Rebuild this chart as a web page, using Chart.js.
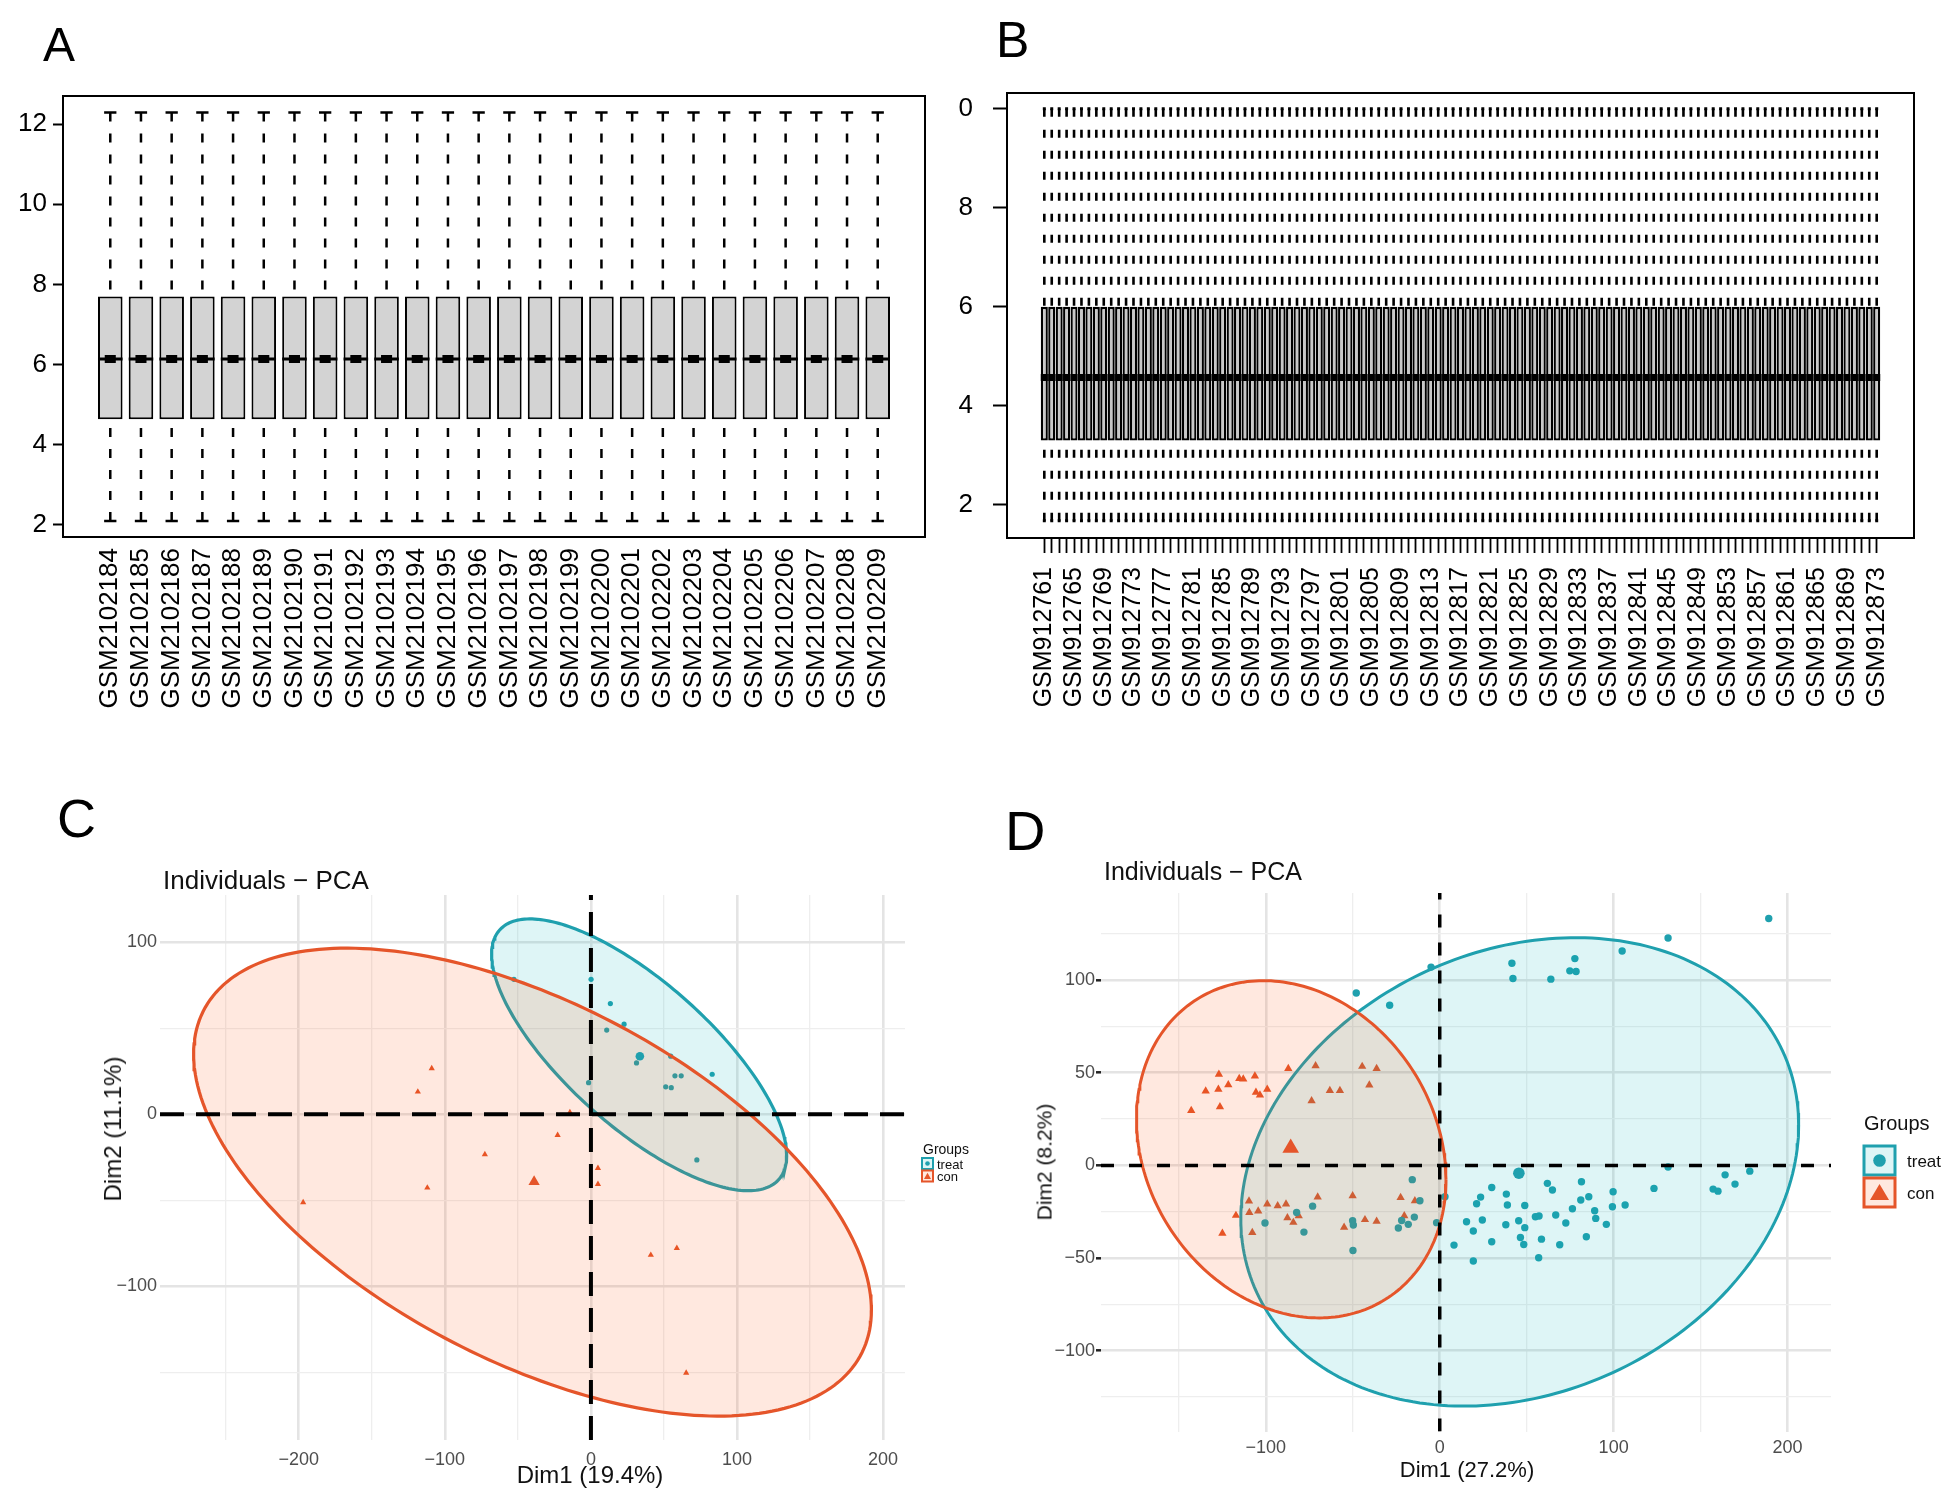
<!DOCTYPE html>
<html><head><meta charset="utf-8">
<script src="https://cdn.jsdelivr.net/npm/chart.js@4.4.1/dist/chart.umd.min.js"></script>
<style>
html,body{margin:0;padding:0;background:#fff;}
body{width:1948px;height:1496px;position:relative;overflow:hidden;font-family:"Liberation Sans",Arial,Helvetica,sans-serif;}
canvas{position:absolute;}
.t{position:absolute;white-space:nowrap;line-height:1;color:#000;}
.c{transform:translate(-50%,-50%);}
.r{transform:translate(-50%,-50%) rotate(-90deg);}
.lg{position:absolute;}
</style></head><body>
<canvas id="cA" width="958" height="740" style="left:0;top:0;width:958px;height:740px"></canvas>
<canvas id="cB" width="990" height="740" style="left:958px;top:0;width:990px;height:740px"></canvas>
<canvas id="cC" width="975" height="736" style="left:0;top:760px;width:975px;height:736px"></canvas>
<canvas id="cD" width="973" height="736" style="left:975px;top:760px;width:973px;height:736px"></canvas>

<div class="t" style="left:43px;top:21px;font-size:48px">A</div>
<div class="t" style="left:996px;top:15px;font-size:50px">B</div>
<div class="t" style="left:57px;top:791px;font-size:54px">C</div>
<div class="t" style="left:1005px;top:803px;font-size:56px">D</div>

<div class="t" style="left:163px;top:867px;font-size:26px;color:#111">Individuals − PCA</div>
<div class="t c" style="left:590px;top:1475px;font-size:24px;color:#111">Dim1 (19.4%)</div>
<div class="t r" style="left:113px;top:1129px;font-size:24px;color:#111">Dim2 (11.1%)</div>

<div class="t" style="left:1104px;top:859px;font-size:25px;color:#111">Individuals − PCA</div>
<div class="t c" style="left:1467px;top:1470px;font-size:22px;color:#111">Dim1 (27.2%)</div>
<div class="t r" style="left:1044px;top:1162px;font-size:21px;color:#111">Dim2 (8.2%)</div>

<!-- legend C -->
<div class="t" style="left:923px;top:1142px;font-size:14px;color:#111">Groups</div>
<svg class="lg" style="left:921px;top:1157px" width="14" height="26">
  <rect x="1" y="1" width="11" height="11" fill="rgba(0,175,187,0.13)" stroke="#1FA0AE" stroke-width="2"/>
  <circle cx="6.5" cy="6.5" r="2.3" fill="#1FA0AE"/>
  <rect x="1" y="13.5" width="11" height="11" fill="rgba(252,78,7,0.13)" stroke="#E5552A" stroke-width="2"/>
  <polygon points="6.5,15.8 10,22 3,22" fill="#E5552A"/>
</svg>
<div class="t" style="left:937px;top:1158px;font-size:13px;color:#111">treat</div>
<div class="t" style="left:937px;top:1170px;font-size:13px;color:#111">con</div>

<!-- legend D -->
<div class="t" style="left:1864px;top:1113px;font-size:20px;color:#111">Groups</div>
<svg class="lg" style="left:1862px;top:1144px" width="37" height="67">
  <rect x="2" y="2" width="31" height="29" fill="rgba(0,175,187,0.13)" stroke="#1FA0AE" stroke-width="3"/>
  <circle cx="17.5" cy="16.5" r="6.3" fill="#1FA0AE"/>
  <rect x="2" y="34" width="31" height="29" fill="rgba(252,78,7,0.13)" stroke="#E5552A" stroke-width="3"/>
  <polygon points="17.5,40 27,56 8,56" fill="#E5552A"/>
</svg>
<div class="t" style="left:1907px;top:1153px;font-size:17px;color:#111">treat</div>
<div class="t" style="left:1907px;top:1185px;font-size:17px;color:#111">con</div>

<script>
const FONT = '"Liberation Sans", Arial, Helvetica, sans-serif';
Chart.defaults.font.family = FONT;

// ================= Panel A : boxplot data =================
const samplesA = ["GSM2102184","GSM2102185","GSM2102186","GSM2102187","GSM2102188","GSM2102189","GSM2102190","GSM2102191","GSM2102192","GSM2102193",
  "GSM2102194","GSM2102195","GSM2102196","GSM2102197","GSM2102198","GSM2102199","GSM2102200","GSM2102201","GSM2102202","GSM2102203",
  "GSM2102204","GSM2102205","GSM2102206","GSM2102207","GSM2102208","GSM2102209"];
const lowerA  = [2.10,2.10,2.10,2.10,2.10,2.10,2.10,2.10,2.10,2.10,2.10,2.10,2.10,2.10,2.10,2.10,2.10,2.10,2.10,2.10,2.10,2.10,2.10,2.10,2.10,2.10];
const q1A     = [4.64,4.64,4.64,4.64,4.64,4.64,4.64,4.64,4.64,4.64,4.64,4.64,4.64,4.64,4.64,4.64,4.64,4.64,4.64,4.64,4.64,4.64,4.64,4.64,4.64,4.64];
const medianA = [6.14,6.14,6.14,6.14,6.14,6.14,6.14,6.14,6.14,6.14,6.14,6.14,6.14,6.14,6.14,6.14,6.14,6.14,6.14,6.14,6.14,6.14,6.14,6.14,6.14,6.14];
const q3A     = [7.70,7.70,7.70,7.70,7.70,7.70,7.70,7.70,7.70,7.70,7.70,7.70,7.70,7.70,7.70,7.70,7.70,7.70,7.70,7.70,7.70,7.70,7.70,7.70,7.70,7.70];
const upperA  = [12.29,12.29,12.29,12.29,12.29,12.29,12.29,12.29,12.29,12.29,12.29,12.29,12.29,12.29,12.29,12.29,12.29,12.29,12.29,12.29,12.29,12.29,12.29,12.29,12.29,12.29];
const yTicksA = [2,4,6,8,10,12];

// ================= Panel B : boxplot data =================
const samplesB = [
  "GSM912761","GSM912762","GSM912763","GSM912764","GSM912765","GSM912766","GSM912767","GSM912768","GSM912769","GSM912770",
  "GSM912771","GSM912772","GSM912773","GSM912774","GSM912775","GSM912776","GSM912777","GSM912778","GSM912779","GSM912780",
  "GSM912781","GSM912782","GSM912783","GSM912784","GSM912785","GSM912786","GSM912787","GSM912788","GSM912789","GSM912790",
  "GSM912791","GSM912792","GSM912793","GSM912794","GSM912795","GSM912796","GSM912797","GSM912798","GSM912799","GSM912800",
  "GSM912801","GSM912802","GSM912803","GSM912804","GSM912805","GSM912806","GSM912807","GSM912808","GSM912809","GSM912810",
  "GSM912811","GSM912812","GSM912813","GSM912814","GSM912815","GSM912816","GSM912817","GSM912818","GSM912819","GSM912820",
  "GSM912821","GSM912822","GSM912823","GSM912824","GSM912825","GSM912826","GSM912827","GSM912828","GSM912829","GSM912830",
  "GSM912831","GSM912832","GSM912833","GSM912834","GSM912835","GSM912836","GSM912837","GSM912838","GSM912839","GSM912840",
  "GSM912841","GSM912842","GSM912843","GSM912844","GSM912845","GSM912846","GSM912847","GSM912848","GSM912849","GSM912850",
  "GSM912851","GSM912852","GSM912853","GSM912854","GSM912855","GSM912856","GSM912857","GSM912858","GSM912859","GSM912860",
  "GSM912861","GSM912862","GSM912863","GSM912864","GSM912865","GSM912866","GSM912867","GSM912868","GSM912869","GSM912870",
  "GSM912871","GSM912872","GSM912873"];
const lowerB = [
  1.68,1.68,1.68,1.68,1.68,1.68,1.68,1.68,1.68,1.68, 1.68,1.68,1.68,1.68,1.68,1.68,1.68,1.68,1.68,1.68,
  1.68,1.68,1.68,1.68,1.68,1.68,1.68,1.68,1.68,1.68, 1.68,1.68,1.68,1.68,1.68,1.68,1.68,1.68,1.68,1.68,
  1.68,1.68,1.68,1.68,1.68,1.68,1.68,1.68,1.68,1.68, 1.68,1.68,1.68,1.68,1.68,1.68,1.68,1.68,1.68,1.68,
  1.68,1.68,1.68,1.68,1.68,1.68,1.68,1.68,1.68,1.68, 1.68,1.68,1.68,1.68,1.68,1.68,1.68,1.68,1.68,1.68,
  1.68,1.68,1.68,1.68,1.68,1.68,1.68,1.68,1.68,1.68, 1.68,1.68,1.68,1.68,1.68,1.68,1.68,1.68,1.68,1.68,
  1.68,1.68,1.68,1.68,1.68,1.68,1.68,1.68,1.68,1.68, 1.68,1.68,1.68];
const q1B = [
  3.30,3.30,3.30,3.30,3.30,3.30,3.30,3.30,3.30,3.30, 3.30,3.30,3.30,3.30,3.30,3.30,3.30,3.30,3.30,3.30,
  3.30,3.30,3.30,3.30,3.30,3.30,3.30,3.30,3.30,3.30, 3.30,3.30,3.30,3.30,3.30,3.30,3.30,3.30,3.30,3.30,
  3.30,3.30,3.30,3.30,3.30,3.30,3.30,3.30,3.30,3.30, 3.30,3.30,3.30,3.30,3.30,3.30,3.30,3.30,3.30,3.30,
  3.30,3.30,3.30,3.30,3.30,3.30,3.30,3.30,3.30,3.30, 3.30,3.30,3.30,3.30,3.30,3.30,3.30,3.30,3.30,3.30,
  3.30,3.30,3.30,3.30,3.30,3.30,3.30,3.30,3.30,3.30, 3.30,3.30,3.30,3.30,3.30,3.30,3.30,3.30,3.30,3.30,
  3.30,3.30,3.30,3.30,3.30,3.30,3.30,3.30,3.30,3.30, 3.30,3.30,3.30];
const medianB = [
  4.57,4.57,4.57,4.57,4.57,4.57,4.57,4.57,4.57,4.57, 4.57,4.57,4.57,4.57,4.57,4.57,4.57,4.57,4.57,4.57,
  4.57,4.57,4.57,4.57,4.57,4.57,4.57,4.57,4.57,4.57, 4.57,4.57,4.57,4.57,4.57,4.57,4.57,4.57,4.57,4.57,
  4.57,4.57,4.57,4.57,4.57,4.57,4.57,4.57,4.57,4.57, 4.57,4.57,4.57,4.57,4.57,4.57,4.57,4.57,4.57,4.57,
  4.57,4.57,4.57,4.57,4.57,4.57,4.57,4.57,4.57,4.57, 4.57,4.57,4.57,4.57,4.57,4.57,4.57,4.57,4.57,4.57,
  4.57,4.57,4.57,4.57,4.57,4.57,4.57,4.57,4.57,4.57, 4.57,4.57,4.57,4.57,4.57,4.57,4.57,4.57,4.57,4.57,
  4.57,4.57,4.57,4.57,4.57,4.57,4.57,4.57,4.57,4.57, 4.57,4.57,4.57];
const q3B = [
  6.00,6.00,6.00,6.00,6.00,6.00,6.00,6.00,6.00,6.00, 6.00,6.00,6.00,6.00,6.00,6.00,6.00,6.00,6.00,6.00,
  6.00,6.00,6.00,6.00,6.00,6.00,6.00,6.00,6.00,6.00, 6.00,6.00,6.00,6.00,6.00,6.00,6.00,6.00,6.00,6.00,
  6.00,6.00,6.00,6.00,6.00,6.00,6.00,6.00,6.00,6.00, 6.00,6.00,6.00,6.00,6.00,6.00,6.00,6.00,6.00,6.00,
  6.00,6.00,6.00,6.00,6.00,6.00,6.00,6.00,6.00,6.00, 6.00,6.00,6.00,6.00,6.00,6.00,6.00,6.00,6.00,6.00,
  6.00,6.00,6.00,6.00,6.00,6.00,6.00,6.00,6.00,6.00, 6.00,6.00,6.00,6.00,6.00,6.00,6.00,6.00,6.00,6.00,
  6.00,6.00,6.00,6.00,6.00,6.00,6.00,6.00,6.00,6.00, 6.00,6.00,6.00];
const upperB = [
  10.0,10.0,10.0,10.0,10.0,10.0,10.0,10.0,10.0,10.0, 10.0,10.0,10.0,10.0,10.0,10.0,10.0,10.0,10.0,10.0,
  10.0,10.0,10.0,10.0,10.0,10.0,10.0,10.0,10.0,10.0, 10.0,10.0,10.0,10.0,10.0,10.0,10.0,10.0,10.0,10.0,
  10.0,10.0,10.0,10.0,10.0,10.0,10.0,10.0,10.0,10.0, 10.0,10.0,10.0,10.0,10.0,10.0,10.0,10.0,10.0,10.0,
  10.0,10.0,10.0,10.0,10.0,10.0,10.0,10.0,10.0,10.0, 10.0,10.0,10.0,10.0,10.0,10.0,10.0,10.0,10.0,10.0,
  10.0,10.0,10.0,10.0,10.0,10.0,10.0,10.0,10.0,10.0, 10.0,10.0,10.0,10.0,10.0,10.0,10.0,10.0,10.0,10.0,
  10.0,10.0,10.0,10.0,10.0,10.0,10.0,10.0,10.0,10.0, 10.0,10.0,10.0];
const yTicksB = [2,4,6,8,10];

// ================= Panel C : PCA =================
const treatC_x = [0.1, 13.3, 10.8, 22.7, 31.2, 54.6, 57.5, 61.8, 83.0, 51.2, 55.0, -1.6, 72.5, -52.7];
const treatC_y = [78.4, 64.3, 48.9, 52.3, 29.8, 33.7, 22.3, 22.3, 23.2, 15.9, 15.4, 18.3, -26.6, 78.4];
const conC_x = [-109, -118.5, -14.4, -22.8, -72.6, -112, -197, 4.8, 4.8, 41, 58.8, 65.2];
const conC_y = [26.6, 13, 1, -12.2, -23.4, -42.8, -51.3, -31.4, -40.7, -81.9, -77.9, -150.4];
const centerC_treat = [33.5, 33.7];
const centerC_con = [-38.9, -39.3];
// ellipse: [centre x, centre y, half-width x, half-height y, correlation]
const ellipseC_treat = [33, 34.5, 101, 79, -0.74];
const ellipseC_con = [-40, -39.5, 232, 136, -0.548];
const gridC_x = [-250, -200, -150, -100, -50, 0, 50, 100, 150, 200];
const labelsC_x = [-200, -100, 0, 100, 200];
const gridC_y = [-150, -100, -50, 0, 50, 100];
const labelsC_y = [-100, 0, 100];

// ================= Panel D : PCA =================
const treatD_x = [-100.5, -82.3, -78.1, -73.1, -50.1, -49.7, -49.9, -15.8, -11.4, -14.6, -18.1, -21.9, -23.8, -1.8, 3.0,
  8.2, 15.4, 19.3, 21.2, 23.5, 24.5, 29.9, 29.9, 19.3,
  38.3, 38.9, 38.0, 45.4, 48.9, 46.4, 48.3, 48.9, 56.9, 55.0, 57.1, 58.5, 61.9, 64.8, 66.7, 69.0, 72.5, 76.3, 81.5, 81.1,
  85.7, 89.1, 89.7, 84.3, 95.8, 99.7, 99.3, 106.6, 123.2, 131.3, 157.2, 160.0, 164.1, 169.8, 178.3,
  -48, -28.8, -5, 41.5, 42.1, 63.9, 77.7, 74.8, 78.4, 104.9, 131.3, 189.2];
const treatD_y = [-31.1, -25.4, -36, -22, -29.9, -32.2, -45.9, -7.7, -19.1, -27.9, -31.8, -29.7, -33.8, -30.9, -16.9,
  -43, -30.4, -35.4, -20.7, -17.1, -29.5, -11.9, -41.2, -51.6,
  -15.5, -21.4, -32, -29.9, -33.6, -38.9, -42.7, -21.6, -49.8, -27.7, -27.3, -39.8, -9.7, -13.3, -26.8, -42.8, -31.1, -23.4, -8.8, -18.7,
  -16.9, -24.5, -28.6, -38.5, -31.8, -14.2, -22.3, -21.4, -12.4, -0.9, -12.8, -13.9, -5.1, -10.1, -3.1,
  93, 86.4, 107, 109.1, 100.9, 100.5, 111.6, 105, 104.6, 115.7, 122.7, 133.2];
const conD_x = [-127, -134.6, -127.3, -121.6, -115.3, -113, -106.3, -105.7, -103.4, -99.2, -126.4, -87.1, -71.4, -73.7, -63.2, -57.4, -44.6, -36.3, -40.5, -142.9,
  -109.7, -99.2, -93.2, -88.4, -117.2, -109.5, -104.4, -87.6, -84.2, -81.1, -125, -107.8, -70.2, -50.1, -55, -43, -36.3, -22.5, -14.3, -20.4];
const conD_y = [49.2, 40.1, 41.1, 43.5, 46.9, 46.6, 48.2, 39.4, 37.9, 41.1, 31.6, 52.3, 53.7, 34.9, 40.4, 40.4, 53.4, 52.3, 43.3, 29.6,
  -19.3, -20.9, -21.8, -20.9, -27, -25.5, -24.6, -28.3, -30.8, -27.2, -36.7, -36.2, -17.1, -16.4, -33.4, -29.3, -30.2, -17.4, -19.1, -27.2];
const centerD_treat = [45.5, -4.2];
const centerD_con = [-85.7, 9.4];
const ellipseD_treat = [46, -3.5, 160.4, 126.4, 0.2];
const ellipseD_con = [-85.4, 8.7, 89, 91, -0.18];
const gridD_x = [-150, -100, -50, 0, 50, 100, 150, 200];
const labelsD_x = [-100, 0, 100, 200];
const gridD_y = [-125, -100, -75, -50, -25, 0, 25, 50, 75, 100, 125];
const labelsD_y = [-100, -50, 0, 50, 100];

// ================= styles =================
const TEAL = '#1FA0AE', ORANGE = '#E5552A';
const TEAL_FILL = 'rgba(0,175,187,0.13)', ORANGE_FILL = 'rgba(252,78,7,0.13)';

const frame = {
  id: 'frame',
  afterDraw(chart) {
    const a = chart.chartArea, ctx = chart.ctx;
    ctx.save(); ctx.strokeStyle = '#000'; ctx.lineWidth = 2;
    ctx.strokeRect(a.left, a.top, a.right - a.left, a.bottom - a.top);
    ctx.restore();
  }
};

function boxplot(id, o) {
  const xs = o.labels.map((_, i) => i + 1);
  const gap = x => ({x, y: null});
  const whisk = [], caps = [], meds = [], blobs = [];
  xs.forEach((x, i) => {
    whisk.push({x, y: o.upper[i]}, {x, y: o.q3[i]}, gap(x), {x, y: o.lower[i]}, {x, y: o.q1[i]}, gap(x));
    caps.push({x: x - 0.2, y: o.upper[i]}, {x: x + 0.2, y: o.upper[i]}, gap(x),
              {x: x - 0.2, y: o.lower[i]}, {x: x + 0.2, y: o.lower[i]}, gap(x));
    meds.push({x: x - o.half, y: o.median[i]}, {x: x + o.half, y: o.median[i]}, gap(x));
    blobs.push({x: x - 0.18, y: o.median[i]}, {x: x + 0.18, y: o.median[i]}, gap(x));
  });
  const line = (data, w, dash, order) => ({type: 'line', data, borderColor: '#000', borderWidth: w,
    borderDash: dash, pointRadius: 0, fill: false, tension: 0, spanGaps: false, order});
  new Chart(document.getElementById(id), {
    type: 'bar',
    data: {datasets: [
      {type: 'bar', data: xs.map((x, i) => ({x, y: [o.q1[i], o.q3[i]]})), backgroundColor: o.boxFill,
       borderColor: '#000', borderWidth: o.boxBorder, borderSkipped: false, barPercentage: o.half * 2,
       categoryPercentage: 1, order: 10},
      line(whisk, o.whiskW, o.dash, 5),
      line(caps, o.capW, [], 4),
      line(meds, o.medW, [], 3),
      line(blobs, o.blobW, [], 2)
    ]},
    options: {
      responsive: false, animation: false, devicePixelRatio: 1,
      layout: {padding: o.pad},
      plugins: {legend: {display: false}, tooltip: {enabled: false}},
      scales: {
        x: {type: 'linear', min: o.xMin, max: o.xMax, offset: false,
            afterBuildTicks: s => { s.ticks = xs.map(v => ({value: v})); },
            afterFit: s => { s.height = o.xAxisH; },
            ticks: {autoSkip: false, minRotation: 90, maxRotation: 90, padding: o.xPad, color: '#000',
                    font: {size: o.xFont}, callback: v => ((v - 1) % o.every === 0 ? o.labels[v - 1] : '')},
            grid: {display: o.xTicks, drawOnChartArea: false, drawTicks: o.xTicks, tickLength: o.xTickLen,
                   tickColor: '#000', tickWidth: 1.8, offset: false},
            border: {display: true, color: '#000', width: 2}},
        y: {type: 'linear', min: o.yMin, max: o.yMax,
            afterBuildTicks: s => { s.ticks = o.yTicks.map(v => ({value: v})); },
            afterFit: s => { s.width = o.yAxisW; },
            ticks: {padding: o.yPad, color: '#000', font: {size: 26}, callback: v => String(v)},
            grid: {drawOnChartArea: false, drawTicks: true, tickLength: o.yTickLen, tickColor: '#000', tickWidth: 2},
            border: {display: true, color: '#000', width: 2}}
      }
    },
    plugins: [frame]
  });
}

boxplot('cA', {labels: samplesA, lower: lowerA, q1: q1A, median: medianA, q3: q3A, upper: upperA,
  yTicks: yTicksA, xMin: -0.54, xMax: 27.54, yMin: 1.70, yMax: 12.70,
  pad: {top: 96, right: 33, left: 0, bottom: 0}, xAxisH: 203, yAxisW: 63, xPad: 11, xFont: 26,
  xTicks: false, xTickLen: 0, yTickLen: 10, yPad: 6, every: 1, half: 0.4, boxFill: '#d3d3d3',
  boxBorder: 2, whiskW: 2.5, capW: 2.5, dash: [9, 12], medW: 3, blobW: 8});

boxplot('cB', {labels: samplesB, lower: lowerB, q1: q1B, median: medianB, q3: q3B, upper: upperB,
  yTicks: yTicksB, xMin: -4.02, xMax: 118.02, yMin: 1.33, yMax: 10.32,
  pad: {top: 93, right: 34, left: 0, bottom: 0}, xAxisH: 202, yAxisW: 49, xPad: 14, xFont: 25,
  xTicks: true, xTickLen: 15, yTickLen: 14, yPad: 20, every: 4, half: 0.475, boxFill: '#c8c8c8',
  boxBorder: 2.3, whiskW: 2.6, capW: 3, dash: [8, 13], medW: 7, blobW: 7});

// ================= PCA charts =================
function ellipsePoints(e) {
  const [cx, cy, wx, wy, r] = e;
  const d = Math.acos(r);
  const pts = [];
  for (let k = 0; k <= 240; k++) {
    const t = k / 240 * 2 * Math.PI;
    pts.push({x: cx + wx * Math.cos(t), y: cy + wy * Math.cos(t + d)});
  }
  return pts;
}
const zip = (xs, ys) => xs.map((x, i) => ({x, y: ys[i]}));
const fmt = v => (v < 0 ? '\u2212' + (-v) : String(v));

function pca(id, o) {
  new Chart(document.getElementById(id), {
    type: 'scatter',
    data: {datasets: [
      {data: zip(o.tx, o.ty), pointStyle: 'circle', pointRadius: o.rDot, backgroundColor: TEAL, borderWidth: 0, order: 10},
      {data: zip(o.cx, o.cy), pointStyle: 'triangle', pointRadius: o.rTri, backgroundColor: ORANGE, borderWidth: 0, order: 10},
      {data: ellipsePoints(o.eT), showLine: true, pointRadius: 0, borderColor: TEAL, borderWidth: o.ellW,
       backgroundColor: TEAL_FILL, fill: 'shape', tension: 0, order: 8},
      {data: ellipsePoints(o.eC), showLine: true, pointRadius: 0, borderColor: ORANGE, borderWidth: o.ellW,
       backgroundColor: ORANGE_FILL, fill: 'shape', tension: 0, order: 7},
      {data: [{x: o.xMin, y: 0}, {x: o.xMax, y: 0}], showLine: true, pointRadius: 0, borderColor: '#000',
       borderWidth: o.dashW, borderDash: o.dash, order: 5},
      {data: [{x: 0, y: o.yMin}, {x: 0, y: o.yMax}], showLine: true, pointRadius: 0, borderColor: '#000',
       borderWidth: o.dashW, borderDash: o.dash, order: 5},
      {data: [{x: o.mT[0], y: o.mT[1]}], pointStyle: 'circle', pointRadius: o.rDotBig, backgroundColor: TEAL, borderWidth: 0, order: 1},
      {data: [{x: o.mC[0], y: o.mC[1]}], pointStyle: 'triangle', pointRadius: o.rTriBig, backgroundColor: ORANGE, borderWidth: 0, order: 1}
    ]},
    options: {
      responsive: false, animation: false, devicePixelRatio: 1,
      layout: {padding: o.pad},
      plugins: {legend: {display: false}, tooltip: {enabled: false}},
      scales: {
        x: {type: 'linear', min: o.xMin, max: o.xMax,
            afterBuildTicks: s => { s.ticks = o.gx.map(v => ({value: v})); },
            afterFit: s => { s.height = o.xAxisH; },
            ticks: {autoSkip: false, minRotation: 0, maxRotation: 0, padding: o.xPad, color: '#4d4d4d',
                    font: {size: 18}, callback: v => (o.lx.includes(v) ? fmt(v) : '')},
            grid: {color: c => (c.tick && o.lx.includes(c.tick.value) ? '#e4e4e4' : '#eeeeee'),
                   lineWidth: c => (c.tick && o.lx.includes(c.tick.value) ? 2.6 : 1.3), drawTicks: false},
            border: {display: false}},
        y: {type: 'linear', min: o.yMin, max: o.yMax,
            afterBuildTicks: s => { s.ticks = o.gy.map(v => ({value: v})); },
            afterFit: s => { s.width = o.yAxisW; },
            ticks: {padding: o.yPad, color: '#4d4d4d', font: {size: 18},
                    callback: v => (o.ly.includes(v) ? fmt(v) : '')},
            grid: {color: c => (c.tick && o.ly.includes(c.tick.value) ? '#e4e4e4' : '#eeeeee'),
                   lineWidth: c => (c.tick && o.ly.includes(c.tick.value) ? 2.6 : 1.3),
                   drawTicks: o.yTickLen > 0, tickLength: o.yTickLen,
                   tickColor: c => (c.tick && o.ly.includes(c.tick.value) ? '#222' : 'rgba(0,0,0,0)'), tickWidth: 2.5},
            border: {display: false}}
      }
    }
  });
}

pca('cC', {tx: treatC_x, ty: treatC_y, cx: conC_x, cy: conC_y, mT: centerC_treat, mC: centerC_con,
  eT: ellipseC_treat, eC: ellipseC_con, gx: gridC_x, lx: labelsC_x, gy: gridC_y, ly: labelsC_y,
  xMin: -295, xMax: 215, yMin: -189.4, yMax: 127.4,
  pad: {top: 135, right: 70, left: 0, bottom: 0}, xAxisH: 56, yAxisW: 160, xPad: 9, yPad: 3, yTickLen: 0,
  rDot: 2.6, rTri: 3.6, rDotBig: 4.3, rTriBig: 6.5, ellW: 3.2, dashW: 4, dash: [24, 12]});

pca('cD', {tx: treatD_x, ty: treatD_y, cx: conD_x, cy: conD_y, mT: centerD_treat, mC: centerD_con,
  eT: ellipseD_treat, eC: ellipseD_con, gx: gridD_x, lx: labelsD_x, gy: gridD_y, ly: labelsD_y,
  xMin: -194.8, xMax: 225, yMin: -143.6, yMax: 147,
  pad: {top: 133, right: 117, left: 0, bottom: 0}, xAxisH: 64.5, yAxisW: 126, xPad: 6, yPad: 1, yTickLen: 5,
  rDot: 3.7, rTri: 4.8, rDotBig: 5.8, rTriBig: 9.6, ellW: 3, dashW: 3.5, dash: [13, 15]});
</script>
</body></html>
